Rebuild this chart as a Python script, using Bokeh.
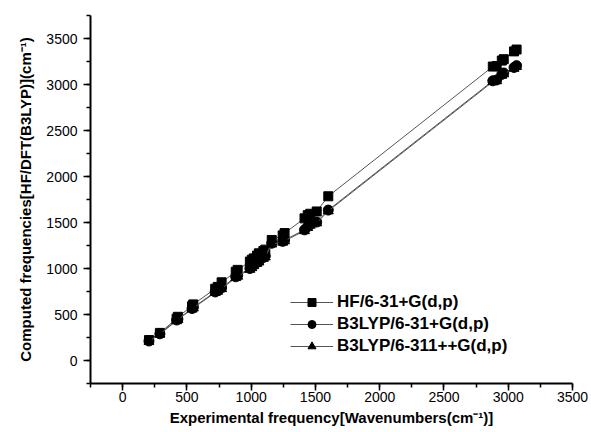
from bokeh.plotting import figure
from bokeh.models import Range1d, SingleIntervalTicker, Legend, LegendItem
from bokeh.embed import file_html
from bokeh.resources import INLINE

# Experimental frequencies (cm-1)
exp_freq = [205, 290, 420, 430, 540, 550, 720, 740, 770, 880, 895, 990, 1005, 1020,
            1045, 1060, 1095, 1110, 1160, 1245, 1260, 1415, 1440, 1460, 1510, 1600,
            2880, 2910, 2950, 2965, 3045, 3065]
# HF/6-31+G(d,p)
hf_631 = [222, 300, 455, 475, 590, 610, 780, 800, 850, 965, 985, 1075, 1095, 1110,
          1140, 1165, 1190, 1205, 1310, 1360, 1385, 1545, 1580, 1595, 1620, 1785,
          3195, 3200, 3260, 3275, 3360, 3380]
# B3LYP/6-31+G(d,p)
b3lyp_631 = [212, 290, 440, 450, 565, 578, 745, 760, 790, 910, 925, 1000, 1020, 1040,
             1065, 1080, 1120, 1135, 1275, 1295, 1310, 1420, 1455, 1480, 1505, 1635,
             3040, 3050, 3110, 3125, 3185, 3205]
# B3LYP/6-311++G(d,p)
b3lyp_6311 = [208, 287, 432, 444, 558, 570, 738, 752, 780, 900, 915, 990, 1008, 1030,
              1055, 1070, 1110, 1125, 1265, 1285, 1300, 1410, 1445, 1470, 1495, 1625,
              3030, 3040, 3100, 3115, 3175, 3195]

labels = ["HF/6-31+G(d,p)", "B3LYP/6-31+G(d,p)", "B3LYP/6-311++G(d,p)"]

FONT = "Liberation Sans"

p = figure(width=590, height=430, output_backend="svg", toolbar_location=None,
           x_range=Range1d(-250, 3500), y_range=Range1d(-250, 3750),
           min_border_left=90, min_border_right=18, min_border_top=15, min_border_bottom=47)
p.outline_line_color = None
p.grid.grid_line_color = None
p.background_fill_color = "white"

for ax in (p.xaxis, p.yaxis):
    ax.ticker = SingleIntervalTicker(interval=500, num_minor_ticks=2)
    ax.axis_line_width = 2
    ax.axis_line_color = "black"
    ax.major_tick_line_color = "black"
    ax.minor_tick_line_color = "black"
    ax.major_tick_line_width = 1.5
    ax.minor_tick_line_width = 1.5
    ax.major_tick_out = 7
    ax.major_tick_in = 0
    ax.minor_tick_out = 4
    ax.minor_tick_in = 0
    ax.major_label_text_font = FONT
    ax.major_label_text_font_size = "14px"
    ax.major_label_text_color = "black"
    ax.axis_label_text_font = FONT
    ax.axis_label_text_font_style = "bold"
    ax.axis_label_text_font_size = "15px"
    ax.axis_label_text_color = "black"

p.xaxis.axis_label = "Experimental frequency[Wavenumbers(cm\u207b\u00b9)]"
p.yaxis.axis_label = "Computed frequencies[HF/DFT(B3LYP)](cm\u207b\u00b9)"
p.xaxis.axis_label_standoff = 4
p.yaxis.axis_label_standoff = 9
p.xaxis.major_label_standoff = 1
p.yaxis.major_label_standoff = 6

series = [(hf_631, "square", 9), (b3lyp_631, "circle", 10), (b3lyp_6311, "triangle", 10)]
items = []
for (vals, marker, sz), lab in zip(series, labels):
    ln = p.line(exp_freq, vals, line_color="#555555", line_width=1)
    sc = p.scatter(exp_freq, vals, marker=marker, size=sz, fill_color="black", line_color="black")
    items.append(LegendItem(label=lab, renderers=[ln, sc]))

legend = Legend(items=items, location=(200, 27))
legend.border_line_color = None
legend.background_fill_alpha = 0
legend.label_text_font = FONT
legend.label_text_font_style = "bold"
legend.label_text_font_size = "17px"
legend.label_text_color = "black"
legend.glyph_width = 43
legend.glyph_height = 20
legend.label_height = 20
legend.spacing = 2
legend.padding = 0
legend.margin = 0
legend.label_standoff = 4
p.add_layout(legend, "center")

open("out.html", "w").write(file_html(p, INLINE))
